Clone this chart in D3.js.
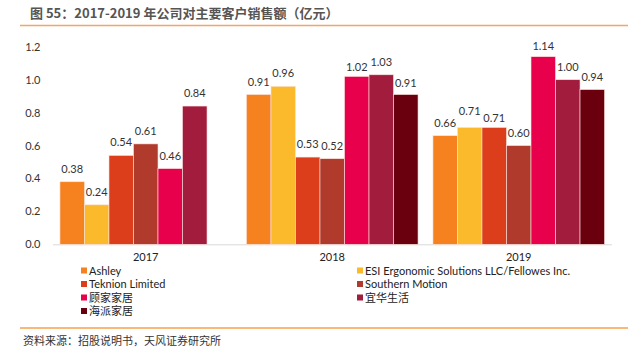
<!DOCTYPE html>
<html><head><meta charset="utf-8">
<script src="https://cdn.jsdelivr.net/npm/d3@7/dist/d3.min.js"></script>
<style>
body{margin:0;background:#fff;}
svg{display:block;font-family:Lato,"Noto Sans CJK SC",sans-serif;}
</style></head>
<body><svg id="c" width="628" height="357"></svg>
<script>
const years = ["2017","2018","2019"];
const seriesNames = ["Ashley","ESI Ergonomic Solutions LLC/Fellowes Inc.","Teknion Limited","Southern Motion","顾家家居","宜华生活","海派家居"];
const seriesColors = ["#F5821F","#FBBA2C","#DC3E1B","#B03A2B","#E8004C","#A21C3E","#6A000E"];
const ashley = [0.38,0.91,0.66];
const esi = [0.24,0.96,0.71];
const teknion = [0.54,0.53,0.71];
const southern = [0.61,0.52,0.60];
const kuka = [0.46,1.02,1.14];
const yihua = [0.84,1.03,1.00];
const haipai = [null,0.91,0.94];
const yTicks = [0,0.2,0.4,0.6,0.8,1.0,1.2];
const values = [ashley,esi,teknion,southern,kuka,yihua,haipai];
// manual label nudges (px) per series/year, as in the original layout
const labelNudge = [[0,0,0],[0,0,-3],[0,0,4],[0,0,0],[0,4,2],[0,0,0],[0,1,0]];

const svg = d3.select("#c");
// title
svg.append("text").attr("x",30).attr("y",18).attr("font-size",13).attr("font-weight","bold")
  .attr("fill","#555").attr("font-family","'Noto Sans CJK SC',sans-serif")
  .text("图 55：2017-2019 年公司对主要客户销售额（亿元）");
svg.append("line").attr("x1",20).attr("x2",628).attr("y1",25.5).attr("y2",25.5).attr("stroke","#F4A46A").attr("stroke-width",1.5);
svg.append("line").attr("x1",20).attr("x2",628).attr("y1",328).attr("y2",328).attr("stroke","#F7A04A").attr("stroke-width",1.5);
svg.append("text").attr("x",23).attr("y",345).attr("font-size",11).attr("fill","#333")
  .attr("font-family","'Noto Sans CJK SC',sans-serif").text("资料来源：招股说明书，天风证券研究所");

const x0 = d3.scaleBand().domain(years).range([52.5,612]).paddingInner(0.08).paddingOuter(0.04);
const x1 = d3.scaleBand().domain(d3.range(seriesNames.length)).range([0,x0.bandwidth()]);
const y = d3.scaleLinear().domain([0,1.2]).range([244.3,46.8]);

// y axis labels
const ya = svg.append("g").attr("transform","translate(40.5,0)")
  .call(d3.axisLeft(y).tickValues(yTicks).tickFormat(d3.format(".1f")).tickSize(0).tickPadding(0));
ya.select(".domain").remove();
ya.selectAll("text").attr("font-size",11).attr("fill","#333").attr("font-family","Lato,sans-serif");

// baseline
svg.append("line").attr("x1",53).attr("x2",612).attr("y1",244.8).attr("y2",244.8).attr("stroke","#d9d9d9").attr("stroke-width",1);

// x axis labels
const xa = svg.append("g").attr("transform","translate(0,253)")
  .call(d3.axisBottom(x0).tickSize(0).tickPadding(0));
xa.select(".domain").remove();
xa.selectAll("text").attr("font-size",11).attr("fill","#222").attr("dy","0.71em").attr("font-family","Lato,sans-serif");

// bars
years.forEach((yr,i)=>{
  const g = svg.append("g").attr("transform",`translate(${x0(yr)},0)`);
  values.forEach((vals,s)=>{
    const v = vals[i];
    if(v==null) return;
    g.append("rect").attr("x",x1(s)).attr("width",x1.bandwidth()).attr("y",y(v)).attr("height",y(0)-y(v))
      .attr("fill",seriesColors[s]).attr("stroke","#fbe3dc").attr("stroke-width",0.6);
    g.append("text").attr("x",x1(s)+x1.bandwidth()/2).attr("y",y(v)-9+labelNudge[s][i]).attr("text-anchor","middle")
      .attr("font-size",11).attr("fill","#333").attr("font-family","Lato,sans-serif").text(d3.format(".2f")(v));
  });
});

// legend
const legPos = [[81,271],[357,271],[81,284.5],[357,284.5],[81,298],[357,298],[81,311.5]];
seriesNames.forEach((n,s)=>{
  const [lx,ly] = legPos[s];
  svg.append("rect").attr("x",lx).attr("y",ly-3.5).attr("width",6).attr("height",6).attr("fill",seriesColors[s]);
  svg.append("text").attr("x",lx+8).attr("y",ly).attr("dy","0.35em").attr("font-size",11).attr("fill","#222")
    .attr("font-family","Lato,'Noto Sans CJK SC',sans-serif").text(n);
});
</script></body></html>
